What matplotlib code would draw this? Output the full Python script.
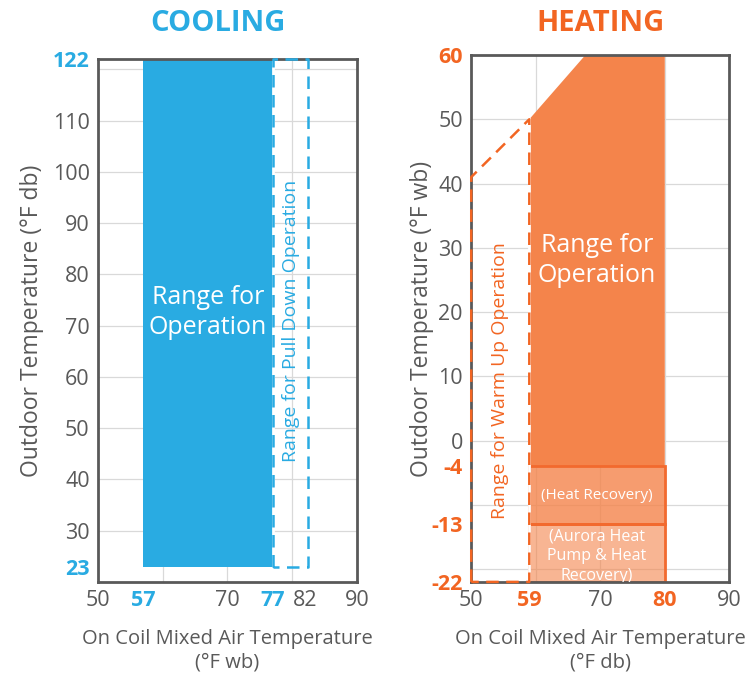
import matplotlib.pyplot as plt
from matplotlib.patches import Polygon, Rectangle

plt.rcParams['font.family'] = ['Open Sans', 'DejaVu Sans']

# Cooling data (x: on coil temp °F wb, y: outdoor temp °F db)
cool_op_x = [57, 77]
cool_op_y = [23, 122]
cool_pull_x = [77, 82.5]
cool_xticks = [50, 57, 70, 77, 82, 90]
cool_xbold = [57, 77]
cool_yticks = [23, 30, 40, 50, 60, 70, 80, 90, 100, 110, 122]
cool_ybold = [23, 122]

# Heating data (x: on coil temp °F db, y: outdoor temp °F wb)
heat_op_x = [59, 59, 67.7, 80, 80]
heat_op_y = [-4, 50, 60, 60, -4]
heat_warm_x = [50, 50, 59, 59]
heat_warm_y = [-22, 41, 50, -22]
heat_hr_y = [-13, -4]
heat_aurora_y = [-22, -13]
heat_xticks = [50, 59, 70, 80, 90]
heat_xbold = [59, 80]
heat_yticks = [-22, -13, -4, 0, 10, 20, 30, 40, 50, 60]
heat_ybold = [-22, -13, -4, 60]

blue = '#29ABE2'
orange = '#F26522'
orange_fill = '#F4844B'
gray = '#595959'
grid = '#D9D9D9'

fig = plt.figure(figsize=(7.48, 6.79), dpi=100)
ax1 = fig.add_axes([0.131, 0.143, 0.346, 0.770])
ax2 = fig.add_axes([0.630, 0.143, 0.345, 0.776])


def style_axes(ax, xlim, ylim, xticks, yticks, xbold, ybold, color, gx, gy):
    ax.set_xlim(*xlim)
    ax.set_ylim(*ylim)
    for v in gx:
        ax.axvline(v, color=grid, lw=0.9, zorder=0)
    for v in gy:
        ax.axhline(v, color=grid, lw=0.9, zorder=0)
    ax.set_xticks(xticks)
    ax.set_yticks(yticks)
    ax.set_xticklabels([str(t) for t in xticks])
    ax.set_yticklabels([str(t) for t in yticks])
    ax.tick_params(length=0, labelsize=15.5, colors=gray, pad=6)
    for lab, t in zip(ax.get_xticklabels(), xticks):
        if t in xbold:
            lab.set_color(color)
            lab.set_fontweight('bold')
    for lab, t in zip(ax.get_yticklabels(), yticks):
        if t in ybold:
            lab.set_color(color)
            lab.set_fontweight('bold')
    for s in ax.spines.values():
        s.set_color(gray)
        s.set_linewidth(2)
        s.set_zorder(3)


# ---- Cooling ----
style_axes(ax1, (50, 90), (20, 122), cool_xticks, cool_yticks, cool_xbold, cool_ybold,
           blue, [60, 70, 80], [30, 40, 50, 60, 70, 80, 90, 100, 110, 120])
ax1.add_patch(Rectangle((cool_op_x[0], cool_op_y[0]), cool_op_x[1] - cool_op_x[0],
                        cool_op_y[1] - cool_op_y[0], facecolor=blue, edgecolor='none', zorder=1))
ax1.plot([cool_pull_x[0]] * 2, cool_op_y, color='white', lw=2, zorder=2)
px = [cool_pull_x[0], cool_pull_x[0], cool_pull_x[1], cool_pull_x[1], cool_pull_x[0]]
py = [cool_op_y[0], cool_op_y[1], cool_op_y[1], cool_op_y[0], cool_op_y[0]]
ax1.plot(px, py, color=blue, lw=1.8, dashes=(5, 3), zorder=4, clip_on=False)
ax1.text(67, 72.5, 'Range for\nOperation', color='white', fontsize=18, ha='center', va='center',
         linespacing=1.25, zorder=5)
ax1.text(79.8, 71, 'Range for Pull Down Operation', color=blue, fontsize=14, rotation=90,
         ha='center', va='center', zorder=5)
fig.text(0.291, 0.966, 'COOLING', color=blue, fontsize=21, fontweight='bold',
         ha='center', va='center')
ax1.set_ylabel('Outdoor Temperature (°F db)', fontsize=16.5, color=gray, labelpad=6)
ax1.set_xlabel('On Coil Mixed Air Temperature\n(°F wb)', fontsize=14.5, color=gray, labelpad=13)

# ---- Heating ----
style_axes(ax2, (50, 90), (-22, 60), heat_xticks, heat_yticks, heat_xbold, heat_ybold,
           orange, [60, 70, 80], [-20, -10, 0, 10, 20, 30, 40, 50])
ax2.add_patch(Polygon(list(zip(heat_op_x, heat_op_y)), closed=True, facecolor=orange_fill,
                      edgecolor='none', zorder=1))
ax2.add_patch(Rectangle((heat_op_x[0], heat_hr_y[0]), heat_op_x[-1] - heat_op_x[0],
                        heat_hr_y[1] - heat_hr_y[0], facecolor=orange_fill, alpha=0.8,
                        edgecolor='none', zorder=1))
ax2.add_patch(Rectangle((heat_op_x[0], heat_aurora_y[0]), heat_op_x[-1] - heat_op_x[0],
                        heat_aurora_y[1] - heat_aurora_y[0], facecolor=orange_fill, alpha=0.6,
                        edgecolor='none', zorder=1))
for y0, y1 in [heat_hr_y, heat_aurora_y]:
    ax2.add_patch(Rectangle((heat_op_x[0], y0), heat_op_x[-1] - heat_op_x[0], y1 - y0,
                            facecolor='none', edgecolor='#F26A2E', lw=2, zorder=2))
ax2.plot([heat_warm_x[2]] * 2, [heat_warm_y[3], heat_warm_y[2]], color='white', lw=2, zorder=2)
ax2.plot(heat_warm_x + [heat_warm_x[0]], heat_warm_y + [heat_warm_y[0]], color=orange, lw=1.8,
         dashes=(5, 3), zorder=4, clip_on=False)
ax2.text(69.5, 28, 'Range for\nOperation', color='white', fontsize=18, ha='center', va='center',
         linespacing=1.25, zorder=5)
ax2.text(69.5, -8.5, '(Heat Recovery)', color='white', fontsize=11, ha='center', va='center',
         zorder=5)
ax2.text(69.5, -18.0, '(Aurora Heat\nPump & Heat\nRecovery)', color='white', fontsize=11.5,
         ha='center', va='center', linespacing=1.3, zorder=5, clip_on=True)
ax2.text(54.5, 9.4, 'Range for Warm Up Operation', color=orange, fontsize=14, rotation=90,
         ha='center', va='center', zorder=5)
fig.text(0.803, 0.966, 'HEATING', color=orange, fontsize=21, fontweight='bold',
         ha='center', va='center')
ax2.set_ylabel('Outdoor Temperature (°F wb)', fontsize=16.5, color=gray, labelpad=-2)
ax2.set_xlabel('On Coil Mixed Air Temperature\n(°F db)', fontsize=14.5, color=gray, labelpad=13)

fig.savefig('out.png', dpi=100)
